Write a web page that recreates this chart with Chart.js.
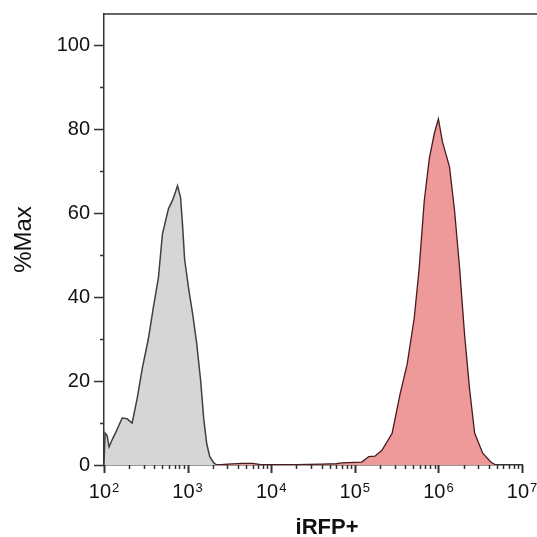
<!DOCTYPE html>
<html>
<head>
<meta charset="utf-8">
<script src="https://cdn.jsdelivr.net/npm/chart.js@4.4.1/dist/chart.umd.min.js"></script>
<style>
  html, body { margin: 0; padding: 0; background: #fff; }
  #wrap { width: 537px; height: 537px; }
</style>
</head>
<body>
<div id="wrap"><canvas id="chart"></canvas></div>
<script>
// histograma cinza (controle)
const controlX = [100, 103, 109, 115, 125, 140, 165, 189, 217, 250, 287, 339, 389, 448, 500, 543, 590, 659, 716, 758, 824, 871, 921, 1029, 1149, 1284, 1434, 1559, 1695, 1842, 2057, 2234];
const controlY = [0, 7.6, 7.0, 4.3, 6.0, 8.0, 11.2, 11.0, 10.0, 16.0, 23.0, 30.0, 37.5, 44.7, 55.0, 58.0, 61.0, 63.0, 65.0, 66.5, 63.7, 57.0, 49.0, 42.0, 36.0, 29.0, 20.0, 11.0, 5.0, 2.0, 0.5, 0];

// histograma vermelho (iRFP+)
const irfpX = [2300, 3000, 4500, 6000, 7500, 20000, 40000, 60000, 69700, 121000, 147000, 174000, 211000, 279000, 349000, 423000, 514000, 590000, 678000, 779000, 895000, 1000000, 1117000, 1358000, 1560000, 1791000, 2057000, 2362000, 2714000, 3388000, 4234000, 4862000];
const irfpY = [0, 0.2, 0.4, 0.4, 0.1, 0.1, 0.2, 0.3, 0.5, 0.7, 2.0, 2.1, 3.5, 7.5, 17, 24, 35, 47, 63, 73, 79, 82.4, 77, 71, 60.6, 47, 31, 18, 7.6, 2.8, 0.7, 0];

// ticks
const decades = [100, 1000, 10000, 100000, 1000000, 10000000];
const decadeExp = ['2', '3', '4', '5', '6', '7'];
const yTicks = [0, 10, 20, 30, 40, 50, 60, 70, 80, 90, 100];
const yLabels = ['0', '', '20', '', '40', '', '60', '', '80', '', '100'];

const tickFont = "'Liberation Sans Narrow', 'Liberation Sans', sans-serif";

function toPoints(xs, ys) {
    return xs.map((x, i) => ({ x: x, y: ys[i] }));
}

// todos os ticks menores do eixo log
const xTicks = [];
decades.forEach((d, i) => {
    if (i < decades.length - 1) {
        for (let m = 1; m <= 9; m++) xTicks.push(d * m);
    } else {
        xTicks.push(d);
    }
});

// desenha as marcas dos eixos, a borda de cima e os rótulos 10^n
const tickMarks = {
    id: 'tickMarks',
    afterDraw(chart) {
        const ctx = chart.ctx;
        const area = chart.chartArea;
        const xs = chart.scales.x;
        const ys = chart.scales.y;
        ctx.save();
        ctx.strokeStyle = '#333';
        ctx.lineWidth = 1.5;
        ctx.beginPath();
        ctx.moveTo(area.left, area.top);
        ctx.lineTo(chart.width, area.top);
        ctx.stroke();

        xTicks.forEach(v => {
            const px = Math.round(xs.getPixelForValue(v)) + 0.5;
            const major = decades.includes(v);
            ctx.lineWidth = major ? 2 : 1.5;
            ctx.beginPath();
            ctx.moveTo(px, area.bottom);
            ctx.lineTo(px, area.bottom + (major ? 8 : 4));
            ctx.stroke();
        });
        yTicks.forEach(v => {
            const py = Math.round(ys.getPixelForValue(v)) + 0.5;
            const major = v % 20 === 0;
            ctx.lineWidth = 1.5;
            ctx.beginPath();
            ctx.moveTo(area.left, py);
            ctx.lineTo(area.left - (major ? 10 : 4), py);
            ctx.stroke();
        });

        // rótulos do eixo x com expoente
        ctx.fillStyle = '#111';
        ctx.textBaseline = 'alphabetic';
        decades.forEach((d, i) => {
            const px = xs.getPixelForValue(d);
            ctx.font = '20px ' + tickFont;
            const wBase = ctx.measureText('10').width;
            ctx.font = '13px ' + tickFont;
            const wExp = ctx.measureText(decadeExp[i]).width;
            const left = px - (wBase + wExp + 1) / 2;
            ctx.font = '20px ' + tickFont;
            ctx.fillText('10', left, 498);
            ctx.font = '13px ' + tickFont;
            ctx.fillText(decadeExp[i], left + wBase + 1, 492);
        });

        // título do eixo x
        ctx.font = "bold 22px 'Liberation Sans', sans-serif";
        ctx.textAlign = 'center';
        ctx.fillText('iRFP+', 327, 534);
        ctx.restore();
    }
};

const ctx = document.getElementById('chart').getContext('2d');

new Chart(ctx, {
    type: 'line',
    data: {
        datasets: [
            {
                label: 'iRFP+',
                data: toPoints(irfpX, irfpY),
                borderColor: '#4a1a1c',
                borderWidth: 1.3,
                backgroundColor: '#ee9a9b',
                fill: 'origin',
                pointRadius: 0,
                tension: 0
            },
            {
                label: 'Controle',
                data: toPoints(controlX, controlY),
                borderColor: '#404040',
                borderWidth: 1.5,
                backgroundColor: '#d6d6d6',
                fill: 'origin',
                pointRadius: 0,
                tension: 0
            }
        ]
    },
    options: {
        responsive: true,
        maintainAspectRatio: false,
        animation: false,
        layout: { padding: { top: 14, right: 15, left: 0, bottom: 0 } },
        plugins: {
            legend: { display: false },
            tooltip: { enabled: false }
        },
        scales: {
            x: {
                type: 'logarithmic',
                min: 100,
                max: 10000000,
                afterBuildTicks: scale => {
                    scale.ticks = xTicks.map(v => ({ value: v }));
                },
                afterFit: scale => {
                    scale.height = 72;
                    scale.paddingLeft = 0;
                    scale.paddingRight = 0;
                },
                grid: { drawOnChartArea: false, drawTicks: false },
                border: { display: true, color: '#333', width: 1.5 },
                ticks: {
                    autoSkip: false,
                    maxRotation: 0,
                    callback: () => ''
                }
            },
            y: {
                min: 0,
                max: 107.4,
                afterBuildTicks: scale => {
                    scale.ticks = yTicks.map(v => ({ value: v }));
                },
                afterFit: scale => {
                    scale.width = 104;
                    scale.paddingTop = 0;
                    scale.paddingBottom = 0;
                },
                grid: { drawOnChartArea: false, drawTicks: false },
                border: { display: true, color: '#333', width: 1.5 },
                ticks: {
                    autoSkip: false,
                    padding: 14,
                    color: '#111',
                    font: { family: tickFont, size: 20 },
                    callback: function(value) {
                        return yLabels[yTicks.indexOf(value)];
                    }
                },
                title: {
                    display: true,
                    text: '%Max',
                    color: '#111',
                    font: { family: tickFont, size: 24 },
                    padding: { top: 10, bottom: 0 }
                }
            }
        }
    },
    plugins: [tickMarks]
});
</script>
</body>
</html>
